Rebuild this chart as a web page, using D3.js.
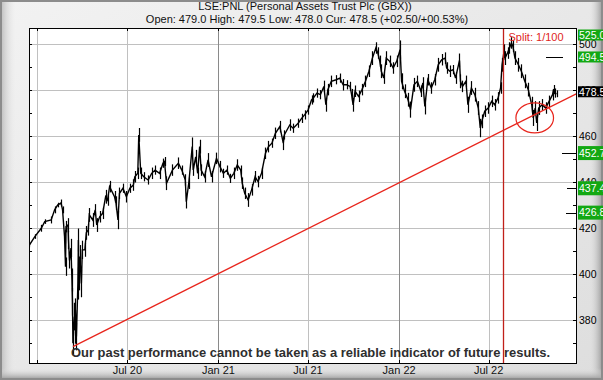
<!DOCTYPE html>
<html><head><meta charset="utf-8">
<script src="https://cdn.jsdelivr.net/npm/d3@7"></script>
<style>html,body{margin:0;padding:0;background:#fff;}svg{display:block;font-family:"Liberation Sans",Arial,sans-serif;}</style>
</head><body><svg id="c" width="603" height="380"></svg>
<script>
// ---------- DATA ----------
const titleText = "LSE:PNL (Personal Assets Trust Plc (GBX))";
const quoteText = "Open: 479.0 High: 479.5 Low: 478.0 Cur: 478.5 (+02.50/+00.53%)";
const footerText = "Our past performance cannot be taken as a reliable indicator of future results.";

const dates = [
"2019-12-16","2019-12-27","2020-01-09","2020-01-16","2020-01-29","2020-02-05","2020-02-11","2020-02-18","2020-02-21","2020-02-25",
"2020-02-27","2020-02-28","2020-03-03","2020-03-04","2020-03-06","2020-03-09","2020-03-11","2020-03-12","2020-03-13","2020-03-16",
"2020-03-17","2020-03-18","2020-03-20","2020-03-23","2020-03-24","2020-03-25","2020-03-27","2020-03-30","2020-04-01","2020-04-06",
"2020-04-09","2020-04-13","2020-04-15","2020-04-22","2020-04-27","2020-04-30","2020-05-06","2020-05-12","2020-05-18","2020-05-22",
"2020-05-26","2020-06-05","2020-06-08","2020-06-12","2020-06-15","2020-06-22","2020-06-29","2020-07-06","2020-07-13","2020-07-16",
"2020-07-22","2020-07-24","2020-07-28","2020-08-03","2020-08-12","2020-08-19","2020-08-26","2020-09-04","2020-09-11","2020-09-14",
"2020-09-18","2020-09-30","2020-10-12","2020-10-19","2020-10-26","2020-10-28","2020-11-02","2020-11-09","2020-11-11","2020-11-16",
"2020-11-20","2020-11-24","2020-11-27","2020-12-04","2020-12-11","2020-12-18","2020-12-28","2021-01-04","2021-01-11","2021-01-18",
"2021-01-25","2021-02-01","2021-02-08","2021-02-15","2021-02-18","2021-02-23","2021-03-02","2021-03-09","2021-03-16","2021-03-22",
"2021-03-29","2021-04-06","2021-04-12","2021-04-19","2021-04-26","2021-05-05","2021-05-12","2021-05-14","2021-05-25","2021-06-01",
"2021-06-11","2021-06-18","2021-06-24","2021-07-01","2021-07-08","2021-07-12","2021-07-19","2021-07-26","2021-08-02","2021-08-06",
"2021-08-10","2021-08-17","2021-08-27","2021-09-03","2021-09-10","2021-09-17","2021-09-24","2021-09-27","2021-09-30","2021-10-04",
"2021-10-11","2021-10-18","2021-10-25","2021-11-01","2021-11-08","2021-11-15","2021-11-19","2021-11-23","2021-11-26","2021-12-01",
"2021-12-06","2021-12-13","2021-12-20","2021-12-27","2022-01-03","2022-01-06","2022-01-12","2022-01-19","2022-01-24","2022-01-31",
"2022-02-07","2022-02-14","2022-02-18","2022-02-22","2022-02-28","2022-03-07","2022-03-14","2022-03-21","2022-03-28","2022-04-04",
"2022-04-07","2022-04-13","2022-04-20","2022-04-25","2022-05-03","2022-05-05","2022-05-09","2022-05-16","2022-05-20","2022-05-27",
"2022-06-03","2022-06-10","2022-06-14","2022-06-17","2022-06-23","2022-06-30","2022-07-07","2022-07-13","2022-07-20","2022-07-25",
"2022-07-28","2022-08-01","2022-08-03","2022-08-08","2022-08-12","2022-08-16","2022-08-19","2022-08-23","2022-08-30","2022-09-05",
"2022-09-12","2022-09-19","2022-09-26","2022-09-29","2022-10-03","2022-10-06","2022-10-10","2022-10-17","2022-10-24","2022-10-31",
"2022-11-07","2022-11-09","2022-11-11","2022-11-15"
];
const prices = [
412.7,416.4,420.0,422.9,423.6,428.0,430.1,431.0,428.0,416.4,
403.3,420.7,421.4,414.9,406.0,411.4,397.5,388.0,370.0,381.6,
375.8,384.5,372.9,396.0,414.9,399.0,407.7,396.0,410.6,410.6,
418.0,419.3,425.8,423.6,428.0,421.4,425.0,426.5,433.7,432.3,
438.1,433.7,430.9,423.6,435.2,437.4,433.7,437.4,438.8,442.4,
443.9,460.6,443.9,442.4,441.0,443.9,445.3,443.9,448.3,449.0,
439.6,445.3,448.3,445.3,441.0,431.6,439.6,455.5,445.3,451.1,
443.9,455.5,445.3,442.4,449.7,442.4,450.4,446.8,443.9,445.3,
441.7,443.9,447.5,445.3,439.6,435.2,432.3,436.7,442.4,440.3,
443.9,452.6,455.5,457.0,461.3,464.2,457.0,460.6,464.9,463.5,
465.7,467.8,469.3,471.4,475.8,476.7,478.8,478.1,481.7,473.7,
480.3,483.9,484.6,485.3,482.4,482.4,481.7,478.1,473.7,479.6,
477.4,480.3,483.9,488.3,494.0,498.4,496.2,492.6,488.3,485.3,
494.0,492.6,489.7,492.6,497.7,483.9,479.6,475.9,471.6,482.4,
483.9,479.6,483.2,473.0,484.6,481.0,484.6,491.1,493.3,494.0,
489.7,488.3,489.0,485.3,493.0,483.9,481.7,483.9,473.7,481.0,
478.1,472.3,463.6,466.5,470.9,472.3,475.2,473.7,476.7,481.0,
491.1,497.0,494.0,496.2,498.4,500.6,499.1,494.0,491.1,488.3,
483.9,480.3,473.7,468.0,472.3,465.8,472.3,473.7,472.3,475.2,
478.1,480.3,478.8,478.5
];
// high-low range around each point (price units)
const ranges = [
2,2,3,2,3,3,2,3,3,6,
8,5,6,8,7,8,10,12,10,12,
12,10,12,14,10,12,10,12,8,6,
6,5,6,6,5,6,5,5,6,5,
5,5,6,8,5,4,5,4,5,5,
5,6,5,4,4,5,4,5,4,4,
6,5,5,4,5,6,5,8,5,6,
5,6,5,5,6,5,5,5,4,4,
4,5,5,4,5,5,6,5,5,5,
5,5,5,4,5,5,6,4,5,4,
4,4,4,4,4,4,4,4,5,6,
5,5,4,4,5,4,4,5,6,5,
5,5,5,5,6,5,5,5,6,5,
6,5,5,5,8,7,6,6,7,6,
5,5,5,7,5,5,5,6,5,5,
5,5,4,5,6,6,5,5,7,6,
6,6,8,6,5,5,5,5,5,5,
6,6,6,5,5,5,5,6,6,6,
6,6,7,7,6,7,6,5,5,5,
5,4,4,3
];

const xTickDates  = ["2020-01-01","2020-07-01","2021-01-01","2021-07-01","2022-01-01","2022-07-01"];
const xTickLabels = ["","Jul 20","Jan 21","Jul 21","Jan 22","Jul 22"];
const yGridValues = [380,400,420,440,460,480,500];
const yMinorTicks = [370,380,390,400,410,420,430,440,450,460,470,480,490,500];

const trendDates  = ["2020-03-13","2022-12-26"];
const trendValues = [368.5, 478.6];
const splitDate   = "2022-07-30";
const splitLabel  = "Split: 1/100";
const ringDate    = "2022-10-02";
const ringValue   = 468.0;
const ringHalfDays = 38;
const ringHalfValue = 6.5;

const levelValues = [525.0, 494.5, 478.5, 452.7, 437.4, 426.8];
const levelLabels = ["525.0","494.5","478.5","452.7","437.4","426.8"];
const levelKinds  = ["target","target","current","target","target","target"];

// ---------- LAYOUT ----------
const W = 603, H = 380;
const L = 29, R = 577, T = 28, B = 363;
const parse = d3.utcParse("%Y-%m-%d");
const x = d3.scaleUtc()
  .domain([Date.UTC(2019,11,15,5), Date.UTC(2022,11,26,10)])
  .range([L, R]);
const y = d3.scaleLinear().domain([361.4, 507.1]).range([B, T]);

const svg = d3.select("#c");
const defs = svg.append("defs");
const g1 = defs.append("linearGradient").attr("id","panel").attr("x1",0).attr("y1",0).attr("x2",1).attr("y2",1);
g1.append("stop").attr("offset","0%").attr("stop-color","#f2f2f2");
g1.append("stop").attr("offset","100%").attr("stop-color","#dedede");
const g2 = defs.append("linearGradient").attr("id","shR").attr("x1",0).attr("x2",1).attr("y1",0).attr("y2",0);
g2.append("stop").attr("offset","0%").attr("stop-color","#e2e2e2").attr("stop-opacity",0);
g2.append("stop").attr("offset","100%").attr("stop-color","#a8a8a8");
const g3 = defs.append("linearGradient").attr("id","shB").attr("x1",0).attr("x2",0).attr("y1",0).attr("y2",1);
g3.append("stop").attr("offset","0%").attr("stop-color","#e2e2e2").attr("stop-opacity",0);
g3.append("stop").attr("offset","100%").attr("stop-color","#a8a8a8");
const g4 = defs.append("linearGradient").attr("id","shL").attr("x1",0).attr("x2",1).attr("y1",0).attr("y2",0);
g4.append("stop").attr("offset","0%").attr("stop-color","#c4c4c4");
g4.append("stop").attr("offset","100%").attr("stop-color","#ececec").attr("stop-opacity",0);
defs.append("clipPath").attr("id","plotclip").append("rect")
  .attr("x",L).attr("y",T).attr("width",R-L).attr("height",B-T);

// frame
svg.append("rect").attr("width",W).attr("height",H).attr("fill","#8c8c8c");
svg.append("rect").attr("x",2).attr("y",2).attr("width",W-4).attr("height",H-4).attr("fill","url(#panel)");
svg.append("rect").attr("x",2).attr("y",2).attr("width",14).attr("height",H-4).attr("fill","url(#shL)");
svg.append("rect").attr("x",W-14).attr("y",2).attr("width",12).attr("height",H-4).attr("fill","url(#shR)");
svg.append("rect").attr("x",2).attr("y",H-12).attr("width",W-4).attr("height",10).attr("fill","url(#shB)");

// plot background
svg.append("rect").attr("x",L).attr("y",T).attr("width",R-L).attr("height",B-T).attr("fill","#ffffff");

// gridlines
const gridG = svg.append("g");
gridG.selectAll("line.h").data(yGridValues).join("line")
  .attr("x1",L).attr("x2",R).attr("y1",d=>Math.round(y(d))+0.5).attr("y2",d=>Math.round(y(d))+0.5)
  .attr("stroke","#c0c0c0").attr("stroke-width",1);
gridG.selectAll("line.v").data(xTickDates).join("line")
  .attr("x1",d=>Math.round(x(parse(d)))+0.5).attr("x2",d=>Math.round(x(parse(d)))+0.5)
  .attr("y1",T).attr("y2",B)
  .attr("stroke",(d,i)=> (i===2||i===4) ? "#8a8a8a" : "#c0c0c0").attr("stroke-width",1);

// ticks: all pointing inward
const tickG = svg.append("g").attr("stroke","#000").attr("stroke-width",1);
xTickDates.forEach(d=>{
  const xx = Math.round(x(parse(d)))+0.5;
  tickG.append("line").attr("x1",xx).attr("x2",xx).attr("y1",T).attr("y2",T+3);
  tickG.append("line").attr("x1",xx).attr("x2",xx).attr("y1",B).attr("y2",B-3);
});
yMinorTicks.forEach(v=>{
  const yy = Math.round(y(v))+0.5;
  tickG.append("line").attr("x1",L).attr("x2",L+3).attr("y1",yy).attr("y2",yy);
  tickG.append("line").attr("x1",R).attr("x2",R-4).attr("y1",yy).attr("y2",yy);
});

// price line with high-low bars
const series = dates.map((d,i)=>({d:parse(d), v:prices[i], r:ranges[i]}));
const priceG = svg.append("g").attr("clip-path","url(#plotclip)");
priceG.selectAll("line").data(series).join("line")
  .attr("x1",p=>Math.round(x(p.d))+0.5).attr("x2",p=>Math.round(x(p.d))+0.5)
  .attr("y1",p=>y(p.v - p.r/2)).attr("y2",p=>y(p.v + p.r/2))
  .attr("stroke","#000").attr("stroke-width",1.2);
priceG.append("path").datum(series)
  .attr("d", d3.line().x(p=>x(p.d)).y(p=>y(p.v)))
  .attr("fill","none").attr("stroke","#000").attr("stroke-width",1.4).attr("stroke-linejoin","miter");

// trend line
svg.append("line").attr("clip-path","url(#plotclip)")
  .attr("x1",x(parse(trendDates[0]))).attr("y1",y(trendValues[0]))
  .attr("x2",x(parse(trendDates[1]))).attr("y2",y(trendValues[1]))
  .attr("stroke","#e8251c").attr("stroke-width",1.3);

// split line
const sx = Math.round(x(parse(splitDate)))+0.5;
svg.append("line").attr("x1",sx).attr("x2",sx).attr("y1",T).attr("y2",B)
  .attr("stroke","#c0201a").attr("stroke-width",1.3);
svg.append("text").attr("x",sx+5).attr("y",T+13).text(splitLabel)
  .attr("font-size",11).attr("fill","#e0251c");

// ring
const rc = parse(ringDate);
const rx = x(d3.utcDay.offset(rc, ringHalfDays)) - x(rc);
const ry = y(ringValue - ringHalfValue) - y(ringValue);
svg.append("ellipse").attr("cx",x(rc)).attr("cy",y(ringValue)).attr("rx",rx).attr("ry",ry)
  .attr("fill","none").attr("stroke","#e8251c").attr("stroke-width",1.2);

// plot border
svg.append("rect").attr("x",L+0.5).attr("y",T+0.5).attr("width",R-L-1).attr("height",B-T)
  .attr("fill","none").attr("stroke","#000").attr("stroke-width",1);

// right y labels
svg.append("g").selectAll("text").data(yGridValues).join("text")
  .attr("x",R+2).attr("y",d=>y(d)).attr("dy","0.36em")
  .attr("font-size",10.5).attr("fill","#000").text(d=>d);

// level boxes and markers
const markerSpans = [[0,0],[546,563],[0,0],[562,577],[567,577],[566,577]];
const boxHeights  = [11,11,11,14,14,14];
const boxShift    = [0,0,-2,0,0,0];
levelValues.forEach((v,i)=>{
  const cy = Math.max(y(v), T+7) + boxShift[i];
  const kind = levelKinds[i];
  const bh = boxHeights[i];
  svg.append("rect").attr("x",R+1).attr("y",cy-bh/2).attr("width",W-R).attr("height",bh)
    .attr("fill", kind==="current" ? "#000" : "#13a813");
  svg.append("text").attr("x",R+2).attr("y",cy).attr("dy","0.36em")
    .attr("font-size",10.5).attr("fill","#fff").text(levelLabels[i]);
  const sp = markerSpans[i];
  if (sp[1] > sp[0]) {
    svg.append("line").attr("x1",sp[0]).attr("x2",sp[1]).attr("y1",Math.round(y(v))+0.5).attr("y2",Math.round(y(v))+0.5)
      .attr("stroke","#000").attr("stroke-width",1);
  }
});

// x labels
svg.append("g").selectAll("text").data(xTickDates).join("text")
  .attr("x",d=>x(parse(d))).attr("y",374).attr("text-anchor","middle")
  .attr("font-size",11).attr("fill","#111").text((d,i)=>xTickLabels[i]);

// title
svg.append("text").attr("x",305).attr("y",10).attr("text-anchor","middle")
  .attr("font-size",11).attr("fill","#111").text(titleText);
svg.append("text").attr("x",307).attr("y",23).attr("text-anchor","middle")
  .attr("font-size",11).attr("fill","#111").text(quoteText);

// footer disclaimer
svg.append("text").attr("x",71).attr("y",357).attr("font-size",13).attr("font-weight","bold")
  .attr("fill","#2e2e2e").attr("textLength",479).attr("lengthAdjust","spacingAndGlyphs").text(footerText);
</script></body></html>
